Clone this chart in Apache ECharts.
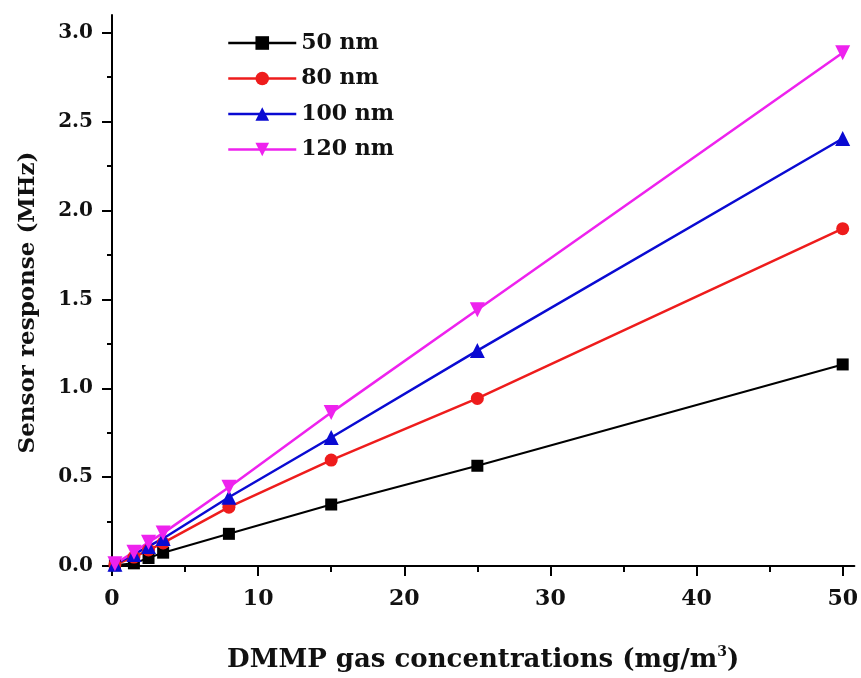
<!DOCTYPE html>
<html>
<head>
<meta charset="utf-8">
<script src="https://cdn.jsdelivr.net/npm/echarts@6/dist/echarts.min.js"></script>
<style>
  html, body { margin: 0; padding: 0; background: #ffffff; overflow: hidden; }
  #chart { width: 861px; height: 678px; }
</style>
</head>
<body>
<div id="chart"></div>
<script>
// DMMP concentrations (mg/m3)
var concentrations = [0.2, 1.5, 2.5, 3.5, 8, 15, 25, 50];
// Sensor response (MHz) for each film thickness
var resp50nm  = [0.004, 0.015, 0.045, 0.075, 0.181, 0.346, 0.564, 1.134];
var resp80nm  = [0.008, 0.050, 0.090, 0.130, 0.331, 0.596, 0.943, 1.898];
var resp100nm = [0.010, 0.065, 0.110, 0.155, 0.387, 0.723, 1.212, 2.405];
var resp120nm = [0.012, 0.078, 0.134, 0.185, 0.443, 0.863, 1.442, 2.888];
var seriesNames = ['50 nm', '80 nm', '100 nm', '120 nm'];

// tick positions
var xMajorTicks = [0, 10, 20, 30, 40, 50];
var xMinorTicks = [5, 15, 25, 35, 45];
var yMajorTicks = [0, 0.5, 1.0, 1.5, 2.0, 2.5, 3.0];
var yMinorTicks = [0.25, 0.75, 1.25, 1.75, 2.25, 2.75];

var FONT = 'DejaVu Serif';

function pairs(ys) {
  return concentrations.map(function (x, i) { return [x, ys[i]]; });
}

function makeSeries(name, ys, color, symbol, size, rotate, width) {
  return {
    name: name,
    type: 'line',
    data: pairs(ys),
    xAxisIndex: 0,
    yAxisIndex: 0,
    symbol: symbol,
    symbolSize: size,
    symbolRotate: rotate,
    showAllSymbol: true,
    clip: false,
    lineStyle: { color: color, width: width },
    itemStyle: { color: color },
    emphasis: { disabled: true },
    animation: false
  };
}

var chart = echarts.init(document.getElementById('chart'), null, { renderer: 'canvas' });

var X_MIN = 0, X_MAX = 50.8, Y_MIN = 0, Y_MAX = 3.1;

chart.setOption({
  backgroundColor: '#ffffff',
  animation: false,
  grid: { left: 112, right: 4, top: 15, bottom: 107, containLabel: false },
  legend: {
    data: seriesNames,
    orient: 'vertical',
    left: 222,
    top: 27,
    itemWidth: 68,
    itemHeight: 17,
    itemGap: 13.5,
    lineStyle: { width: 2.5 },
    textStyle: { fontFamily: FONT, fontWeight: 'bold', fontSize: 22, color: '#111', lineHeight: 17 }
  },
  xAxis: [
    {
      type: 'value', min: X_MIN, max: X_MAX,
      position: 'bottom',
      name: '{t|DMMP gas concentrations (mg/m}{s|3}{t|)}',
      nameLocation: 'middle',
      nameGap: 79,
      nameTextStyle: {
        rich: {
          t: { fontFamily: FONT, fontWeight: 'bold', fontSize: 26, color: '#111' },
          s: { fontFamily: FONT, fontWeight: 'bold', fontSize: 14, color: '#111', verticalAlign: 'top', padding: [0, 0, 16, 0] }
        }
      },
      axisLine: { show: true, onZero: false, lineStyle: { color: '#000', width: 2 } },
      axisTick: { show: true, inside: false, length: 10, lineStyle: { color: '#000', width: 2 }, customValues: xMajorTicks },
      axisLabel: {
        customValues: xMajorTicks, margin: 22,
        fontFamily: FONT, fontWeight: 'bold', fontSize: 22, color: '#111'
      },
      splitLine: { show: false }
    },
    {
      type: 'value', min: X_MIN, max: X_MAX,
      position: 'bottom',
      axisLine: { show: false, onZero: false },
      axisTick: { show: true, inside: false, length: 6, lineStyle: { color: '#000', width: 2 }, customValues: xMinorTicks },
      axisLabel: { show: false },
      splitLine: { show: false }
    }
  ],
  yAxis: [
    {
      type: 'value', min: Y_MIN, max: Y_MAX,
      position: 'left',
      name: 'Sensor response (MHz)',
      nameLocation: 'middle',
      nameGap: 72,
      nameTextStyle: { fontFamily: FONT, fontWeight: 'bold', fontSize: 23, color: '#111', padding: [0, 24, 0, 0] },
      axisLine: { show: true, onZero: false, lineStyle: { color: '#000', width: 2 } },
      axisTick: { show: true, inside: false, length: 10, lineStyle: { color: '#000', width: 2 }, customValues: yMajorTicks },
      axisLabel: {
        customValues: yMajorTicks, margin: 19,
        formatter: function (v) { return v.toFixed(1); },
        fontFamily: FONT, fontWeight: 'bold', fontSize: 20, color: '#111'
      },
      splitLine: { show: false }
    },
    {
      type: 'value', min: Y_MIN, max: Y_MAX,
      position: 'left',
      axisLine: { show: false, onZero: false },
      axisTick: { show: true, inside: false, length: 5, lineStyle: { color: '#000', width: 2 }, customValues: yMinorTicks },
      axisLabel: { show: false },
      splitLine: { show: false }
    }
  ],
  series: [
    makeSeries(seriesNames[0], resp50nm,  '#000000', 'rect',     12, 0,   2),
    makeSeries(seriesNames[1], resp80nm,  '#ee1c1c', 'circle',   13, 0,   2.5),
    makeSeries(seriesNames[2], resp100nm, '#0a0ad2', 'triangle', 15, 0,   2.5),
    makeSeries(seriesNames[3], resp120nm, '#ee22ee', 'triangle', 15, 180, 2.5)
  ]
});
</script>
</body>
</html>
